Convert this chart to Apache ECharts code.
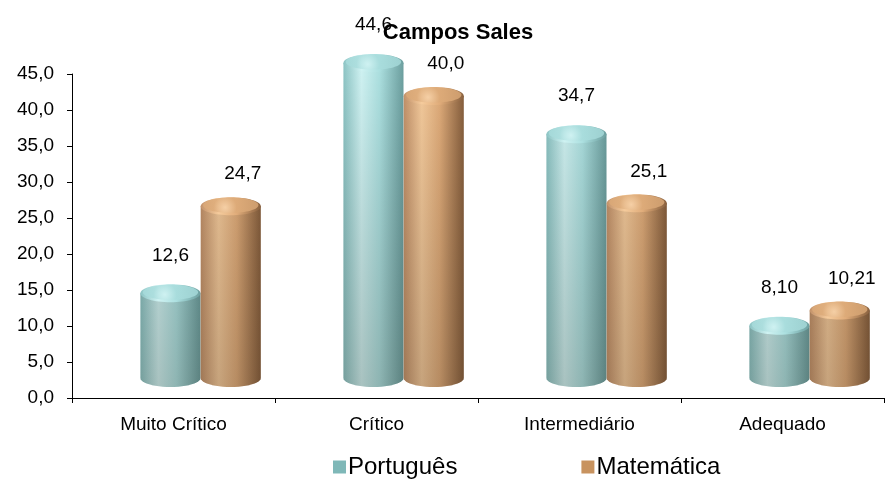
<!DOCTYPE html>
<html>
<head>
<meta charset="utf-8">
<script src="https://cdn.jsdelivr.net/npm/echarts@6/dist/echarts.min.js"></script>
<style>html,body{margin:0;padding:0;background:#fff}#c{width:892px;height:479px}</style>
</head>
<body>
<div id="c"></div>
<script>
const categories = ['Muito Crítico', 'Crítico', 'Intermediário', 'Adequado'];
const portugues = [12.6, 44.6, 34.7, 8.10];
const matematica = [24.7, 40.0, 25.1, 10.21];
const portuguesLabels = ['12,6', '44,6', '34,7', '8,10'];
const matematicaLabels = ['24,7', '40,0', '25,1', '10,21'];
const yTicks = { min: 0, max: 45, interval: 5 };

const FONT = 'Liberation Sans, Arial, sans-serif';
const G = echarts.graphic;

const palettes = [
  { left: '#8cc4c4', hi: '#cff2f2', mid: '#ace0e0', right: '#6c9f9f',
    capA: '#d2f3f3', capB: '#a8dcdc', legend: '#7fb8b8' },
  { left: '#c3926a', hi: '#f5cb9c', mid: '#e0ac7a', right: '#88603e',
    capA: '#f7d3ab', capB: '#dcaa78', legend: '#c8935f' }
];
// horizontal position of each cylinder inside its category band (fraction of band)
const offsets = [-0.015, 0.282];
const labelDx = [0, 12];
const labelDy = [52, 46];

function bodyPoints(cx, rx, ry, yT, yB) {
  const pts = [[cx - rx, yT], [cx - rx, yB]];
  const n = 24;
  for (let k = 1; k < n; k++) {
    const a = Math.PI - Math.PI * k / n;
    pts.push([cx + rx * Math.cos(a), yB + ry * Math.sin(a)]);
  }
  pts.push([cx + rx, yB], [cx + rx, yT]);
  return pts;
}

function makeRender(si, labels) {
  const p = palettes[si];
  return function (params, api) {
    const cat = api.value(0), v = api.value(1);
    const top = api.coord([cat, v]);
    const base = api.coord([cat, 0]);
    const band = api.size([1, 0])[0];
    const cx = top[0] + band * offsets[si];
    const rx = band * 0.148;
    const ry = 9;
    const topEdge = top[1] - 23;
    const botEdge = base[1] - 11;
    const yT = topEdge + ry, yB = botEdge - ry;
    const body = new G.LinearGradient(0, 0, 1, 0, [
      { offset: 0, color: p.left }, { offset: 0.3, color: p.hi },
      { offset: 0.6, color: p.mid }, { offset: 1, color: p.right }
    ]);
    const shade = new G.LinearGradient(0, 60, 0, 395, [
      { offset: 0, color: 'rgba(0,0,0,0)' }, { offset: 1, color: 'rgba(30,20,10,0.22)' }
    ], true);
    const cap = new G.RadialGradient(0.4, 0.65, 0.75, [
      { offset: 0, color: p.capA }, { offset: 1, color: p.capB }
    ]);
    const pts = bodyPoints(cx, rx, ry, yT, yB);
    const children = [
      { type: 'polygon', shape: { points: pts }, style: { fill: body } },
      { type: 'polygon', shape: { points: pts }, style: { fill: shade } },
      { type: 'ellipse', shape: { cx: cx, cy: yT, rx: rx, ry: ry }, style: { fill: body } },
      { type: 'ellipse', shape: { cx: cx, cy: yT - 1, rx: rx * 0.92, ry: ry * 0.85 }, style: { fill: cap, opacity: 0.8 } },
      { type: 'text', x: cx + labelDx[si], y: top[1] - labelDy[si],
        style: { text: labels[params.dataIndex], font: '19px ' + FONT, fill: '#000',
                 align: 'center', verticalAlign: 'middle' } }
    ];
    return { type: 'group', children: children };
  };
}

const chart = echarts.init(document.getElementById('c'));
chart.setOption({
  animation: false,
  backgroundColor: '#fff',
  title: {
    text: 'Campos Sales', left: 453, top: 17, textAlign: 'center',
    textStyle: { fontFamily: FONT, fontSize: 22, fontWeight: 'bold', color: '#000' }
  },
  grid: { left: 72, right: 8, top: 74, bottom: 81 },
  legend: {
    top: 450, left: 328, itemGap: 124, itemWidth: 13, itemHeight: 13, icon: 'rect',
    textStyle: { fontFamily: FONT, fontSize: 24, color: '#000', padding: [0, 0, 0, -3] },
    data: ['Português', 'Matemática']
  },
  xAxis: {
    type: 'category', data: categories,
    axisLine: { lineStyle: { color: '#000', width: 1 } },
    axisTick: { show: true, length: 5, lineStyle: { color: '#000' } },
    axisLabel: { color: '#000', fontFamily: FONT, fontSize: 19, margin: 17 }
  },
  yAxis: {
    type: 'value', min: yTicks.min, max: yTicks.max, interval: yTicks.interval,
    axisLine: { show: true, lineStyle: { color: '#000', width: 1 } },
    axisTick: { show: true, length: 5, lineStyle: { color: '#000' } },
    splitLine: { show: false },
    axisLabel: { color: '#000', fontFamily: FONT, fontSize: 19, margin: 18,
      formatter: v => v.toFixed(1).replace('.', ',') }
  },
  series: [
    { name: 'Português', type: 'custom', renderItem: makeRender(0, portuguesLabels),
      itemStyle: { color: palettes[0].legend },
      data: portugues.map((v, i) => [i, v]), encode: { x: 0, y: 1 } },
    { name: 'Matemática', type: 'custom', renderItem: makeRender(1, matematicaLabels),
      itemStyle: { color: palettes[1].legend },
      data: matematica.map((v, i) => [i, v]), encode: { x: 0, y: 1 } }
  ]
});
</script>
</body>
</html>
